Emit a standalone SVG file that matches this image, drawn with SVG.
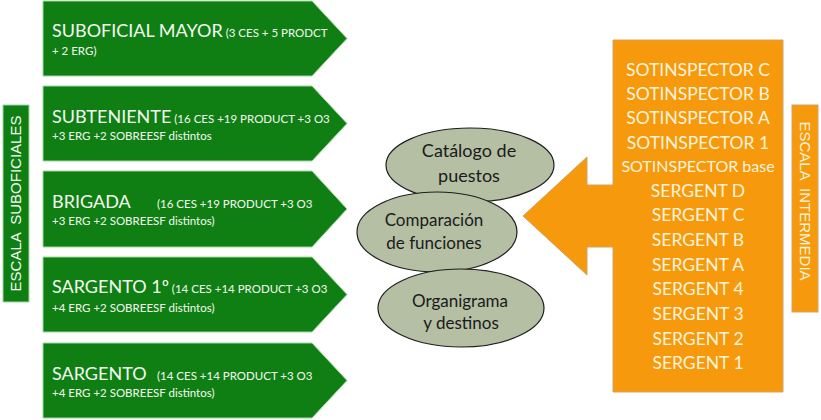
<svg xmlns="http://www.w3.org/2000/svg" width="821" height="420" viewBox="0 0 821 420">
<defs>
<style>
.gr{fill:#0f7f14;stroke:#9ed89e;stroke-width:1}
.or{fill:#f7990c;stroke:#cfa46a;stroke-width:1}
.el{fill:#b4bfa4;stroke:#1e1e1e;stroke-width:1.2}
.big{font-family:Lato,"Open Sans",sans-serif;font-size:18px;fill:#f4faf0}
.sm{font-family:Lato,"Open Sans",sans-serif;font-size:11.5px;fill:#f4faf0}
.ot{font-family:Lato,"Open Sans",sans-serif;font-size:17.5px;fill:#fdf4dc;text-anchor:middle}
.et{font-family:Lato,"Open Sans",sans-serif;font-size:17px;fill:#1a1a1a;text-anchor:middle}
.vt{font-family:"Liberation Sans",Arial,sans-serif;font-size:15px;fill:#f4faf0;text-anchor:middle}
</style>
</defs>
<rect width="821" height="420" fill="#ffffff"/>

<g id="escala-suboficiales">
<rect class="gr" x="3" y="105" width="26" height="197"/>
<text class="vt" transform="translate(21,203.5) rotate(-90)" xml:space="preserve">ESCALA  SUBOFICIALES</text>
</g>

<g id="suboficial-mayor">
<polygon class="gr" points="43,1 312,1 347,38.5 312,76 43,76"/>
<text x="52" y="37"><tspan class="big">SUBOFICIAL MAYOR</tspan><tspan class="sm"> (3 CES + 5 PRODCT</tspan></text>
<text class="sm" x="52" y="55">+ 2 ERG)</text>
</g>

<g id="subteniente">
<polygon class="gr" points="43,86 312,86 347,123.5 312,161 43,161"/>
<text x="52" y="123"><tspan class="big">SUBTENIENTE</tspan><tspan class="sm"> (16 CES +19 PRODUCT +3 O3</tspan></text>
<text class="sm" x="52" y="140">+3 ERG +2 SOBREESF distintos</text>
</g>

<g id="brigada">
<polygon class="gr" points="43,171 312,171 347,209 312,247 43,247"/>
<text x="52" y="208"><tspan class="big">BRIGADA</tspan><tspan class="sm" x="157">(16 CES +19 PRODUCT +3 O3</tspan></text>
<text class="sm" x="52" y="225">+3 ERG +2 SOBREESF distintos)</text>
</g>

<g id="sargento-1">
<polygon class="gr" points="43,257 312,257 347,294.5 312,332 43,332"/>
<text x="52" y="293"><tspan class="big">SARGENTO 1º</tspan><tspan class="sm"> (14 CES +14 PRODUCT +3 O3</tspan></text>
<text class="sm" x="52" y="312">+4 ERG +2 SOBREESF distintos)</text>
</g>

<g id="sargento">
<polygon class="gr" points="43,343 312,343 347,380.5 312,418 43,418"/>
<text x="52" y="380"><tspan class="big">SARGENTO</tspan><tspan class="sm" x="157">(14 CES +14 PRODUCT +3 O3</tspan></text>
<text class="sm" x="52" y="397">+4 ERG +2 SOBREESF distintos)</text>
</g>

<g id="catalogo">
<ellipse class="el" cx="470" cy="165" rx="84" ry="37"/>
<text class="et" x="469" y="157" style="font-size:18px">Catálogo de</text>
<text class="et" x="469" y="182" style="font-size:18px">puestos</text>
</g>

<g id="comparacion">
<ellipse class="el" cx="437" cy="232" rx="80" ry="40"/>
<text class="et" x="434" y="226">Comparación</text>
<text class="et" x="434" y="249">de funciones</text>
</g>

<g id="organigrama">
<ellipse class="el" cx="461" cy="308" rx="83" ry="39"/>
<text class="et" x="460" y="307">Organigrama</text>
<text class="et" x="461" y="329">y destinos</text>
</g>

<g id="escala-intermedia-arrow">
<polygon class="or" points="613,40 783,40 783,392 613,392 613,247 587,247 587,275 523,216 587,157 587,185 613,185"/>
<text class="ot" x="698" y="76">SOTINSPECTOR C</text>
<text class="ot" x="698" y="100">SOTINSPECTOR B</text>
<text class="ot" x="698" y="124">SOTINSPECTOR A</text>
<text class="ot" x="698" y="149">SOTINSPECTOR 1</text>
<text class="ot" x="698" y="172" style="font-size:16px">SOTINSPECTOR base</text>
<text class="ot" x="698" y="197">SERGENT D</text>
<text class="ot" x="698" y="221">SERGENT C</text>
<text class="ot" x="698" y="246">SERGENT B</text>
<text class="ot" x="698" y="271">SERGENT A</text>
<text class="ot" x="698" y="295">SERGENT 4</text>
<text class="ot" x="698" y="320">SERGENT 3</text>
<text class="ot" x="698" y="345">SERGENT 2</text>
<text class="ot" x="698" y="369">SERGENT 1</text>
</g>

<g id="escala-intermedia">
<rect class="or" x="792" y="105" width="26" height="207"/>
<text class="vt" transform="translate(800,201) rotate(90)" style="fill:#fdf4dc" xml:space="preserve">ESCALA  INTERMEDIA</text>
</g>

<g id="connectors"></g>
</svg>
